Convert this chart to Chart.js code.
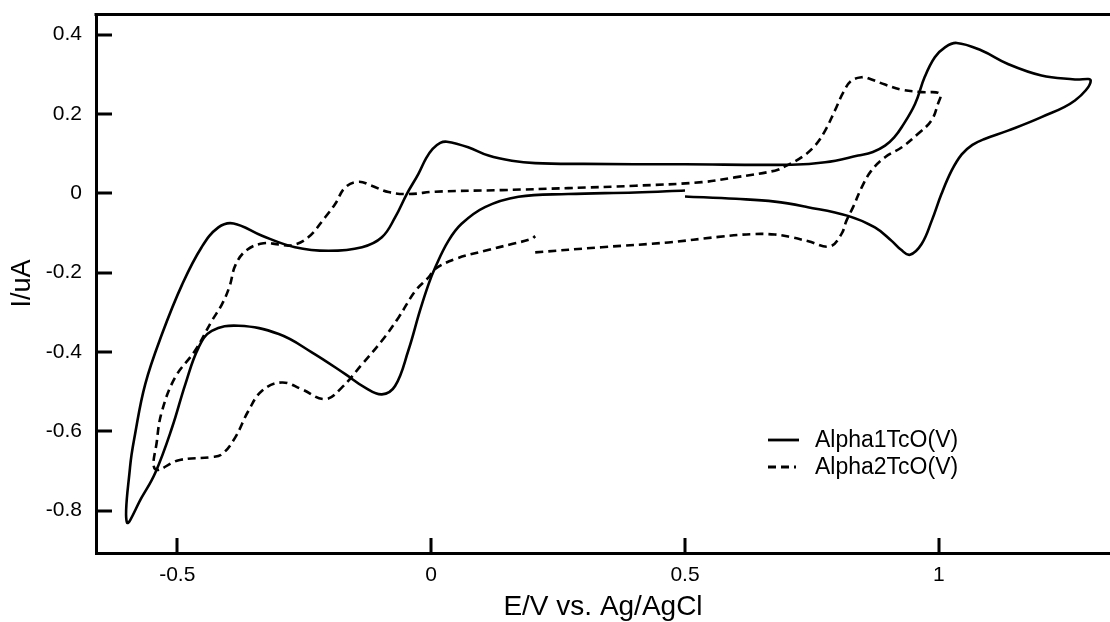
<!DOCTYPE html>
<html>
<head>
<meta charset="utf-8">
<title>Cyclic voltammograms</title>
<script src="https://cdn.jsdelivr.net/npm/chart.js@4.4.1/dist/chart.umd.min.js"></script>
<style>
  html, body { margin: 0; padding: 0; background: #fff; }
  canvas { display: block; }
</style>
</head>
<body>
<canvas id="cv" width="1110" height="622"></canvas>
<script>
/* ---------------- DATA ---------------- */
// Alpha1TcO(V): potential (V vs Ag/AgCl) and current (uA), in scan order
const alpha1E = [
  0.500, 0.600, 0.677, 0.742, 0.821, 0.874, 0.907, 0.925, 0.943, 0.966,
  0.986, 1.005, 1.025, 1.045, 1.066, 1.090, 1.136, 1.202, 1.268, 1.299,
  1.268, 1.202, 1.136, 1.084, 1.035, 1.012, 0.992, 0.972, 0.953, 0.927,
  0.912, 0.894, 0.870, 0.841, 0.776, 0.710, 0.500, 0.300, 0.205, 0.159,
  0.113, 0.073, 0.031, 0.018, 0.003, -0.010, -0.025, -0.048, -0.071, -0.097,
  -0.136, -0.202, -0.268, -0.333, -0.389, -0.419, -0.452, -0.490, -0.530, -0.563,
  -0.583, -0.593, -0.599, -0.570, -0.543, -0.510, -0.484, -0.458, -0.432, -0.379,
  -0.300, -0.235, -0.169, -0.130, -0.097, -0.071, -0.045, -0.022, -0.005, 0.008,
  0.034, 0.060, 0.106, 0.172, 0.270, 0.402, 0.500
];
const alpha1I = [
  -0.008, -0.014, -0.021, -0.035, -0.057, -0.086, -0.120, -0.142, -0.155, -0.128,
  -0.069, -0.002, 0.057, 0.098, 0.122, 0.137, 0.158, 0.192, 0.234, 0.284,
  0.287, 0.297, 0.326, 0.360, 0.379, 0.368, 0.343, 0.293, 0.225, 0.167,
  0.141, 0.120, 0.104, 0.095, 0.078, 0.072, 0.073, 0.074, 0.076, 0.082,
  0.095, 0.116, 0.130, 0.127, 0.112, 0.088, 0.049, -0.002, -0.061, -0.111,
  -0.136, -0.145, -0.136, -0.107, -0.076, -0.086, -0.136, -0.229, -0.355, -0.481,
  -0.607, -0.691, -0.830, -0.767, -0.704, -0.590, -0.481, -0.389, -0.347, -0.334,
  -0.355, -0.401, -0.456, -0.490, -0.507, -0.486, -0.397, -0.296, -0.229, -0.187,
  -0.120, -0.077, -0.035, -0.009, -0.002, 0.002, 0.007
];

// Alpha2TcO(V)
const alpha2E = [
  0.205, 0.336, 0.467, 0.566, 0.631, 0.677, 0.710, 0.743, 0.785, 0.808,
  0.818, 0.831, 0.848, 0.867, 0.894, 0.927, 0.959, 0.985, 0.998, 1.002,
  0.966, 0.927, 0.894, 0.861, 0.851, 0.828, 0.812, 0.795, 0.776, 0.756,
  0.730, 0.696, 0.677, 0.598, 0.533, 0.402, 0.270, 0.139, 0.008, -0.045,
  -0.084, -0.117, -0.143, -0.169, -0.189, -0.209, -0.242, -0.274, -0.300, -0.330,
  -0.363, -0.385, -0.397, -0.412, -0.432, -0.465, -0.504, -0.530, -0.540, -0.543,
  -0.497, -0.432, -0.412, -0.386, -0.360, -0.333, -0.294, -0.255, -0.209, -0.176,
  -0.136, -0.097, -0.064, -0.031, -0.005, 0.008, 0.047, 0.106, 0.159, 0.198,
  0.205
];
const alpha2I = [
  -0.149, -0.136, -0.124, -0.110, -0.103, -0.104, -0.111, -0.121, -0.134, -0.103,
  -0.069, -0.035, 0.015, 0.057, 0.091, 0.116, 0.150, 0.183, 0.225, 0.251,
  0.255, 0.261, 0.274, 0.290, 0.293, 0.284, 0.255, 0.208, 0.158, 0.120,
  0.091, 0.067, 0.057, 0.040, 0.028, 0.019, 0.013, 0.008, 0.004, -0.002,
  0.003, 0.019, 0.029, 0.015, -0.027, -0.061, -0.111, -0.131, -0.129, -0.126,
  -0.143, -0.180, -0.235, -0.280, -0.322, -0.397, -0.464, -0.549, -0.624, -0.696,
  -0.673, -0.665, -0.658, -0.616, -0.549, -0.498, -0.477, -0.494, -0.519, -0.490,
  -0.431, -0.372, -0.313, -0.246, -0.212, -0.191, -0.166, -0.145, -0.128, -0.115,
  -0.108
];

const seriesNames = ["Alpha1TcO(V)", "Alpha2TcO(V)"];

const xTickValues = [-0.5, 0, 0.5, 1];
const xTickLabels = ["-0.5", "0", "0.5", "1"];
const yTickValues = [0.4, 0.2, 0, -0.2, -0.4, -0.6, -0.8];
const yTickLabels = ["0.4", "0.2", "0", "-0.2", "-0.4", "-0.6", "-0.8"];
/* -------------------------------------- */

const FONT = "'Liberation Sans', Arial, Helvetica, sans-serif";

function toPoints(xs, ys) {
  return xs.map((x, i) => ({ x, y: ys[i] }));
}

// axis frame: top rule, ticks pointing inward, legend in the lower right
const framePlugin = {
  id: "frame",
  afterDraw(chart) {
    const { ctx, chartArea: a, scales: { x, y } } = chart;
    ctx.save();
    ctx.strokeStyle = "#000";
    ctx.lineWidth = 3;
    ctx.lineCap = "butt";
    ctx.beginPath();
    ctx.moveTo(a.left - 1.5, a.top + 0.5);
    ctx.lineTo(a.right, a.top + 0.5);
    x.ticks.forEach(t => {
      const px = Math.round(x.getPixelForValue(t.value));
      ctx.moveTo(px, a.bottom);
      ctx.lineTo(px, a.bottom - 15);
    });
    y.ticks.forEach(t => {
      const py = Math.round(y.getPixelForValue(t.value));
      ctx.moveTo(a.left, py);
      ctx.lineTo(a.left + 16, py);
    });
    ctx.stroke();

    // legend
    const lx = 768, ly = 440, gap = 27;
    chart.data.datasets.forEach((ds, i) => {
      const yy = ly + i * gap;
      ctx.beginPath();
      ctx.lineWidth = 2.8;
      ctx.setLineDash(ds.borderDash || []);
      ctx.moveTo(lx, yy);
      ctx.lineTo(lx + (ds.borderDash ? 28 : 31), yy);
      ctx.stroke();
      ctx.setLineDash([]);
      ctx.fillStyle = "#000";
      ctx.font = "23px " + FONT;
      ctx.textBaseline = "middle";
      ctx.textAlign = "left";
      ctx.fillText(ds.label, 815, yy + 1);
    });
    ctx.restore();
  }
};

new Chart(document.getElementById("cv"), {
  type: "scatter",
  data: {
    datasets: [
      {
        label: seriesNames[0],
        data: toPoints(alpha1E, alpha1I),
        showLine: true,
        borderColor: "#000",
        borderWidth: 2.6,
        pointRadius: 0,
        tension: 0.4,
        fill: false
      },
      {
        label: seriesNames[1],
        data: toPoints(alpha2E, alpha2I),
        showLine: true,
        borderColor: "#000",
        borderWidth: 2.6,
        borderDash: [8, 5],
        pointRadius: 0,
        tension: 0.4,
        fill: false
      }
    ]
  },
  options: {
    responsive: false,
    animation: false,
    layout: { padding: { top: 14, right: 0, bottom: 0, left: 0 } },
    plugins: {
      legend: { display: false },
      tooltip: { enabled: false }
    },
    scales: {
      x: {
        type: "linear",
        min: -0.66,
        max: 1.337,
        grid: { display: false, drawTicks: false },
        border: { display: true, color: "#000", width: 3 },
        afterBuildTicks: s => { s.ticks = xTickValues.map(v => ({ value: v })); },
        afterFit: s => {
          s.height = 69;
          s.paddingLeft = s.paddingRight = 0;
        },
        ticks: {
          color: "#000",
          padding: 10,
          font: { family: FONT, size: 21 },
          maxRotation: 0,
          callback: (v, i) => xTickLabels[i]
        },
        title: {
          display: true,
          text: "E/V vs. Ag/AgCl",
          color: "#000",
          font: { family: FONT, size: 28 },
          padding: { top: 0, bottom: -2 }
        }
      },
      y: {
        type: "linear",
        min: -0.907,
        max: 0.452,
        grid: { display: false, drawTicks: false },
        border: { display: true, color: "#000", width: 3 },
        afterBuildTicks: s => { s.ticks = yTickValues.map(v => ({ value: v })); },
        afterFit: s => {
          s.width = 96;
          s.paddingTop = s.paddingBottom = 0;
        },
        ticks: {
          color: "#000",
          padding: 14,
          font: { family: FONT, size: 21 },
          callback: (v, i) => yTickLabels[i]
        },
        title: {
          display: true,
          text: "I/uA",
          color: "#000",
          font: { family: FONT, size: 27 },
          padding: { top: 6, bottom: 0 }
        }
      }
    }
  },
  plugins: [framePlugin]
});
</script>
</body>
</html>
